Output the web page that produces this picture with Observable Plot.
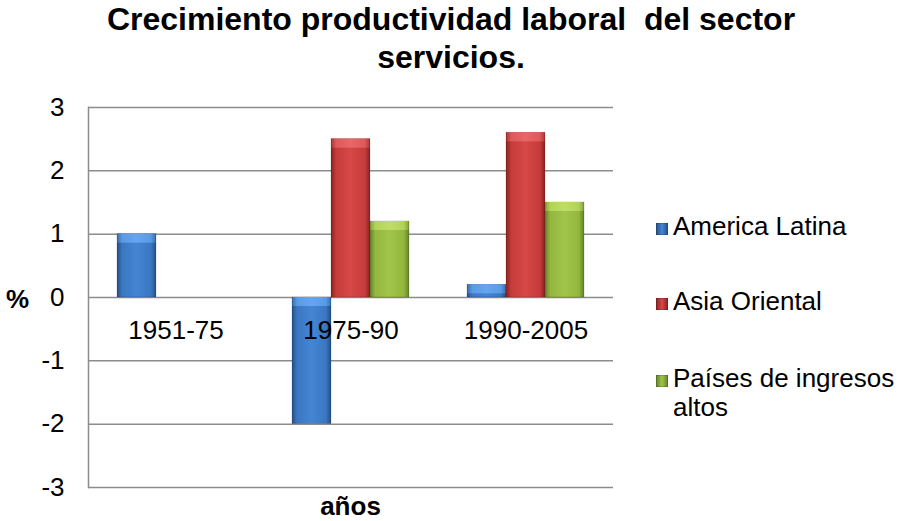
<!DOCTYPE html>
<html>
<head>
<meta charset="utf-8">
<script src="https://cdn.jsdelivr.net/npm/d3@7"></script>
<script src="https://cdn.jsdelivr.net/npm/@observablehq/plot@0.6"></script>
<style>
  html, body { margin: 0; padding: 0; background: #fff; }
  #wrap { position: relative; width: 902px; height: 521px; overflow: hidden;
          font-family: "Liberation Sans", Arial, sans-serif; color: #000; }
  #wrap svg.plot { position: absolute; left: 0; top: 0; }
  .title { position: absolute; left: 0; top: 0; width: 902px; text-align: center;
           font-weight: bold; font-size: 32px; line-height: 38px; white-space: pre; }
  .lbl { position: absolute; font-size: 26px; line-height: 25px; white-space: pre; }
  .bold { font-weight: bold; }
  .sw { position: absolute; width: 12px; height: 12px; }
</style>
</head>
<body>
<div id="wrap"></div>
<script>
// ---- data ----
const periods = ["1951-75", "1975-90", "1990-2005"];
const seriesNames = ["America Latina", "Asia Oriental", "Países de ingresos altos"];
const americaLatina = [1.0, -2.0, 0.2];
const asiaOriental = [null, 2.5, 2.6];
const paisesAltos = [null, 1.2, 1.5];
const yTicks = [-3, -2, -1, 0, 1, 2, 3];

const seriesValues = [americaLatina, asiaOriental, paisesAltos];
const data = [];
periods.forEach((p, i) => {
  seriesNames.forEach((s, j) => {
    const v = seriesValues[j][i];
    data.push({period: p, series: s, value: v, top: v == null ? null : Math.max(0, v)});
  });
});

const gradIds = ["gBlue", "gRed", "gGreen"];
const hiIds = ["hBlue", "hRed", "hGreen"];
const gradStops = [
  ["#254f86", "#3a77c2", "#4585d3", "#3a77c2", "#254f86"],
  ["#8a2222", "#c63b3b", "#d74848", "#c63b3b", "#8a2222"],
  ["#63822a", "#93b63f", "#a1c44a", "#93b63f", "#63822a"]
];
const hiStops = [
  ["#3d73b8", "#5b9be6", "#66a6ef", "#5b9be6", "#3d73b8"],
  ["#b03a3a", "#df5a5a", "#e86767", "#df5a5a", "#b03a3a"],
  ["#86a83a", "#b2d35a", "#bedd66", "#b2d35a", "#86a83a"]
];

const plot = Plot.plot({
  width: 902,
  height: 521,
  marginLeft: 88,
  marginRight: 289,
  marginTop: 107,
  marginBottom: 34,
  style: {fontFamily: "'Liberation Sans', Arial, sans-serif", fontSize: "26px", color: "#000", background: "transparent", overflow: "visible"},
  fx: {domain: periods, padding: 0, axis: null, label: null},
  x: {domain: seriesNames, paddingInner: 0, paddingOuter: 0.727, axis: null, label: null},
  y: {domain: [-3, 3], axis: null, label: null},
  color: {type: "ordinal", domain: seriesNames, range: gradIds.map(id => `url(#${id})`)},
  marks: [
    Plot.gridY(yTicks, {stroke: "#8c8c8c", strokeOpacity: 1, strokeWidth: 1.5}),
    Plot.frame({anchor: "left", facetAnchor: "left", stroke: "#8c8c8c", strokeWidth: 1.5}),
    Plot.axisY(yTicks, {anchor: "left", tickSize: 0, tickPadding: 24, fontSize: 26, fill: "#000", label: null, tickFormat: d => String(d)}),
    Plot.barY(data, {fx: "period", x: "series", y: "value", fill: "series", stroke: "rgba(0,0,0,0.25)", strokeWidth: 0.6}),
    Plot.barY(data, {fx: "period", x: "series", y1: "top", y2: "top", insetBottom: -9,
      fill: d => `url(#${hiIds[seriesNames.indexOf(d.series)]})`, insetLeft: 0.5, insetRight: 0.5}),
    Plot.text(periods, {fx: d => d, y: () => 0, text: d => d, dy: 33, fontSize: 26, fill: "#000"})
  ]
});
plot.classList.add("plot");

// gradient defs for the bevelled bars
const svgSel = d3.select(plot);
const defs = svgSel.insert("defs", ":first-child");
function addGrad(id, stops) {
  const g = defs.append("linearGradient").attr("id", id)
    .attr("x1", "0").attr("x2", "1").attr("y1", "0").attr("y2", "0");
  [0, 0.13, 0.5, 0.87, 1].forEach((o, m) => {
    g.append("stop").attr("offset", o).attr("stop-color", stops[m]);
  });
}
gradIds.forEach((id, k) => addGrad(id, gradStops[k]));
hiIds.forEach((id, k) => addGrad(id, hiStops[k]));

const wrap = document.getElementById("wrap");
wrap.appendChild(plot);

// title
const title = document.createElement("div");
title.className = "title";
title.innerHTML = "Crecimiento productividad laboral  del sector<br>servicios.";
wrap.appendChild(title);

// labels
function addLabel(text, left, top, extra, width, align) {
  const d = document.createElement("div");
  d.className = "lbl" + (extra ? " " + extra : "");
  d.style.left = left + "px";
  d.style.top = top + "px";
  if (width) { d.style.width = width + "px"; d.style.textAlign = align; }
  d.textContent = text;
  wrap.appendChild(d);
  return d;
}
// baseline offset within a 25px line box for 26px Liberation Sans ≈ 21
addLabel("%", 6, 287, "bold");
addLabel("años", 250, 494, "bold", 201, "center");

// legend
const legendLines = [["America Latina"], ["Asia Oriental"], ["Países de ingresos", "altos"]];
const legendBase = [235, 310, 387];
legendLines.forEach((lines, k) => {
  lines.forEach((t, li) => addLabel(t, 673, legendBase[k] - 21 + li * 29));
  const sw = document.createElement("div");
  sw.className = "sw";
  sw.style.left = "656px";
  sw.style.top = (legendBase[k] - 12) + "px";
  const s = gradStops[k];
  sw.style.background = `linear-gradient(to right, ${s[0]}, ${s[2]} 50%, ${s[4]})`;
  sw.style.boxShadow = "inset 0 0 0 0.5px rgba(0,0,0,0.3)";
  wrap.appendChild(sw);
});
</script>
</body>
</html>
